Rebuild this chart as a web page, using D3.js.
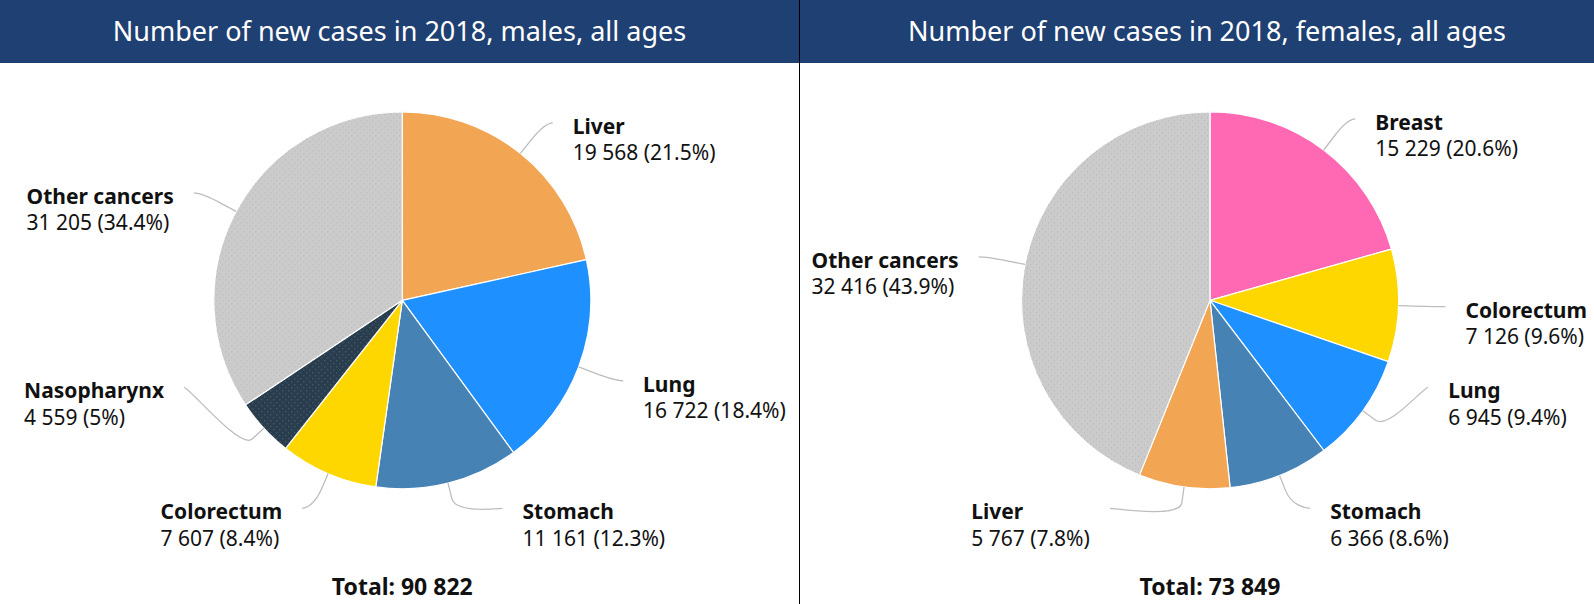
<!DOCTYPE html>
<html><head><meta charset="utf-8">
<script src="https://cdn.jsdelivr.net/npm/d3@7"></script>
<style>
html,body{margin:0;padding:0;background:#fff;}
svg{display:block;font-family:"Noto Sans","Open Sans",sans-serif;}
</style></head><body>
<svg id="chart" width="1594" height="604"></svg>
<script>
// ---------- data ----------
const titles = ["Number of new cases in 2018, males, all ages", "Number of new cases in 2018, females, all ages"];
const maleCategories = ["Liver", "Lung", "Stomach", "Colorectum", "Nasopharynx", "Other cancers"];
const maleValues = [19568, 16722, 11161, 7607, 4559, 31205];
const femaleCategories = ["Breast", "Colorectum", "Lung", "Stomach", "Liver", "Other cancers"];
const femaleValues = [15229, 7126, 6945, 6366, 5767, 32416];
const totalLabel = "Total: ";

// ---------- styles ----------
const colors = {
  "Liver": "#F2A654", "Lung": "#1E90FF", "Stomach": "#4682B4", "Colorectum": "#FFD700",
  "Nasopharynx": "#283D4D", "Other cancers": "#CBCBCB", "Breast": "#FF69B4"
};
const dotted = new Set(["Nasopharynx", "Other cancers"]);

const W = 1594, H = 604, HEADER_H = 63, DIVIDER_X = 799.5;
const R = 188.5, LD = 39, R2 = R + LD, CONN_PAD = 8, TEXT_GAP = 20, BREAK = 16;
const LABEL_H = 78, SLOT = 121, BOTTOM_OFF = 208;
const panels = [
  {title: titles[0], cats: maleCategories, vals: maleValues, cx: 402.3, cy: 300.3, titleX: 399.5},
  {title: titles[1], cats: femaleCategories, vals: femaleValues, cx: 1210, cy: 300.3, titleX: 1207}
];

const fmtNum = v => d3.format(",")(v).replace(/,/g, " ");
const fmtPct = p => { let s = (p * 100).toFixed(1); if (s.endsWith(".0")) s = s.slice(0, -2); return s + "%"; };

const svg = d3.select("#chart");
const defs = svg.append("defs");
const pat = defs.append("pattern").attr("id", "dots").attr("patternUnits", "userSpaceOnUse")
  .attr("width", 6).attr("height", 6);
pat.append("rect").attr("x", 0).attr("y", 0).attr("width", 1).attr("height", 1).attr("fill", "#a89ea6").attr("opacity", 0.5);
pat.append("rect").attr("x", 3).attr("y", 3).attr("width", 1).attr("height", 1).attr("fill", "#a89ea6").attr("opacity", 0.5);

// header
svg.append("rect").attr("x", 0).attr("y", 0).attr("width", W).attr("height", HEADER_H).attr("fill", "#1F4072");

function layout(arcs, cx, cy) {
  const top = cy - R2, bottom = cy + BOTTOM_OFF;
  const items = arcs.map((a, i) => {
    const mid = (a.startAngle + a.endAngle) / 2;
    const sx = Math.sin(mid), sy = -Math.cos(mid);
    return {i, a, sx, sy, right: sx >= 0, y: Math.max(top, Math.min(bottom, cy + R2 * sy))};
  });
  [true, false].forEach(side => {
    const s = items.filter(d => d.right === side).sort((p, q) => p.y - q.y);
    for (let k = s.length - 2; k >= 0; k--) {
      if (s[k].y + LABEL_H > s[k + 1].y) s[k].y = s[k + 1].y - SLOT;
    }
    for (let k = 0; k < s.length; k++) {
      const minY = k === 0 ? top : s[k - 1].y + LABEL_H;
      if (s[k].y < minY) s[k].y = minY;
    }
  });
  items.forEach(d => {
    const dy = d.y - cy;
    const dx = Math.sqrt(Math.max(0, R2 * R2 - dy * dy)) + CONN_PAD;
    d.lx = cx + (d.right ? dx : -dx);
    d.tx = d.lx + (d.right ? TEXT_GAP : -TEXT_GAP);
    d.T = [cx + R * d.sx, cy + R * d.sy];
    d.B = [cx + (R + BREAK) * d.sx, cy + (R + BREAK) * d.sy];
  });
  return items;
}

panels.forEach(p => {
  const total = d3.sum(p.vals);
  const g = svg.append("g");
  g.append("text").attr("x", p.titleX).attr("y", 40.5).attr("text-anchor", "middle")
    .attr("fill", "#fff").attr("font-size", 27).text(p.title);

  const arcs = d3.pie().sort(null).value(d => d)(p.vals);
  const arc = d3.arc().innerRadius(0).outerRadius(R);
  const pg = g.append("g").attr("transform", `translate(${p.cx},${p.cy})`);
  pg.selectAll("path.slice").data(arcs).join("path").attr("class", "slice")
    .attr("d", arc).attr("fill", (d, i) => colors[p.cats[i]])
    .attr("stroke", "#fff").attr("stroke-width", 1.2).attr("stroke-linejoin", "round");
  pg.selectAll("path.dots").data(arcs.filter((d, i) => dotted.has(p.cats[i]))).join("path").attr("class", "dots")
    .attr("d", arc).attr("fill", "url(#dots)");

  const items = layout(arcs, p.cx, p.cy);
  items.forEach(d => {
    const path = d3.path();
    path.moveTo(d.lx, d.y);
    path.bezierCurveTo(d.lx + (d.right ? -5 : 5), d.y, 2 * d.B[0] - d.T[0], 2 * d.B[1] - d.T[1], d.B[0], d.B[1]);
    path.lineTo(d.T[0], d.T[1]);
    g.append("path").attr("d", path.toString()).attr("fill", "none")
      .attr("stroke", "#bdbdbd").attr("stroke-width", 1.3);

    const lg = g.append("g");
    const t1 = lg.append("text").attr("y", d.y + 11).attr("font-size", 21).attr("font-weight", "bold")
      .attr("fill", "#111").text(p.cats[d.i]);
    const t2 = lg.append("text").attr("y", d.y + 37.5).attr("font-size", 21)
      .attr("fill", "#111").text(`${fmtNum(p.vals[d.i])} (${fmtPct(p.vals[d.i] / total)})`);
    const w = Math.max(t1.node().getComputedTextLength(), t2.node().getComputedTextLength());
    const x0 = d.right ? d.tx : d.tx - w;
    t1.attr("x", x0); t2.attr("x", x0);
  });

  g.append("text").attr("x", p.cx).attr("y", 594.5).attr("text-anchor", "middle")
    .attr("font-size", 23).attr("font-weight", "bold").attr("fill", "#111")
    .text(totalLabel + fmtNum(total));
});

svg.append("line").attr("x1", DIVIDER_X).attr("x2", DIVIDER_X).attr("y1", 0).attr("y2", H)
  .attr("stroke", "#000").attr("stroke-width", 1);
</script>
</body></html>
